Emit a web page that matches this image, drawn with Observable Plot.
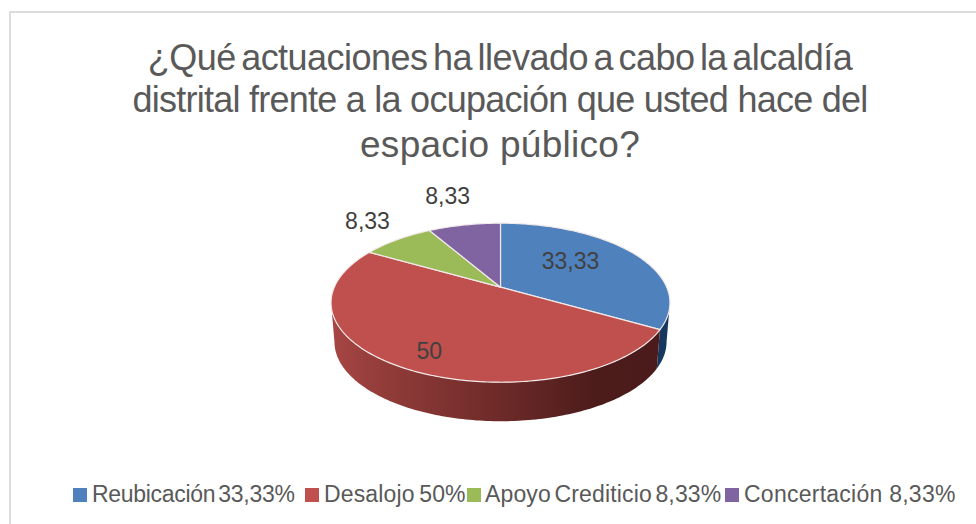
<!DOCTYPE html>
<html lang="es">
<head>
<meta charset="utf-8">
<script src="https://cdn.jsdelivr.net/npm/d3@7"></script>
<script src="https://cdn.jsdelivr.net/npm/@observablehq/plot@0.6"></script>
<style>
html,body{margin:0;padding:0;background:#fff;overflow:hidden}
#wrap{position:relative;width:976px;height:524px;font-family:"Liberation Sans",Arial,sans-serif;overflow:hidden}
#frame{position:absolute;left:9px;top:11px;right:-4px;bottom:-4px;border:2px solid #dcdcdc;box-sizing:border-box}
#title{position:relative;height:175px;color:#595959;font-size:36px;text-align:center}
#title div{position:absolute;left:12px;width:976px;white-space:nowrap;line-height:44px}
#chart{position:relative;height:300px}
#chart svg{display:block}
#legend{position:relative;height:49px;color:#595959;font-size:23px}
#legend span{position:absolute;top:6px;white-space:nowrap;line-height:26px}
#legend i{position:absolute;top:13px;width:14px;height:14px}
</style>
</head>
<body>
<div id="wrap">
  <div id="frame"></div>
  <div id="title"></div>
  <div id="chart"></div>
  <div id="legend"></div>
</div>
<script>
const categories = ["Reubicación", "Desalojo", "Apoyo Crediticio", "Concertación"];
const values = [33.33, 50, 8.33, 8.33];
const valueLabels = ["33,33", "50", "8,33", "8,33"];
const legendLabels = ["Reubicación 33,33%", "Desalojo 50%", "Apoyo Crediticio 8,33%", "Concertación 8,33%"];
const colors = ["#4f81bd", "#c0504d", "#9bbb59", "#8064a2"];
const titleLines = [
  "¿Qué actuaciones ha llevado a cabo la alcaldía",
  "distrital frente a la ocupación que usted hace del",
  "espacio público?"
];
const labelRadius = [0.58, 0.81, 1.41, 1.6];
const labelTurn = [-9, -3, 2, 0];

// perspective view of a flat disc
const cx = 500, cy = 286.7, R = 166.2, S = 76.5, k = 0.195;
const drop = 39, shrink = 0.98;
function project(deg, r = 1, level = 0) {
  const a = deg * Math.PI / 180, u = r * Math.sin(a), v = -r * Math.cos(a), w = 1 - k * v;
  const s = level ? shrink : 1;
  return {x: cx + s * R * u / w, y: cy + (level ? drop : 0) + S * v / w};
}
function arc(a0, a1, level) {
  const out = [], n = Math.max(2, Math.ceil(Math.abs(a1 - a0)));
  for (let i = 0; i <= n; ++i) out.push(project(a0 + (a1 - a0) * i / n, 1, level));
  return out;
}
const total = d3.sum(values);
const cum = d3.cumsum(values);
const starts = values.map((v, i) => (i ? cum[i - 1] : 0) / total * 360);
const ends = Array.from(cum, c => c / total * 360);

const topFace = categories.flatMap((key, i) => {
  const o = project(0, 0);
  return [o, ...arc(starts[i], ends[i], 0), o].map(p => ({...p, key}));
});
const sideStart = 101.2, sideEnd = 258.8;
const side = (a0, a1) => [...arc(a0, a1, 0), ...arc(a1, a0, 1)];
const blueSide = side(sideStart, ends[0]);
const redSide = side(ends[0], sideEnd);
const labels = values.map((v, i) => {
  const mid = (starts[i] + ends[i]) / 2 + labelTurn[i];
  return {...project(mid, labelRadius[i]), text: valueLabels[i]};
});

const svg = Plot.plot({
  width: 976, height: 300,
  margin: 0,
  x: {domain: [0, 976], range: [0, 976], axis: null},
  y: {domain: [175, 475], range: [0, 300], axis: null},
  color: {domain: categories, range: colors},
  marks: [
    Plot.line(blueSide, {x: "x", y: "y", fill: "#17375e", stroke: "none"}),
    Plot.line(redSide, {x: "x", y: "y", fill: "url(#redSide)", stroke: "none"}),
    Plot.line(topFace, {x: "x", y: "y", z: "key", fill: "key", stroke: "#f2e9e9", strokeWidth: 1.2, strokeLinejoin: "round"}),
    Plot.text(labels, {x: "x", y: "y", text: "text", fontSize: 23, fill: "#404040", fontFamily: "Liberation Sans"})
  ]
});
const grad = d3.select(svg).append("defs").append("linearGradient")
  .attr("id", "redSide").attr("gradientUnits", "userSpaceOnUse")
  .attr("x1", 331).attr("x2", 660).attr("y1", 0).attr("y2", 0);
[[0, "#a84644"], [0.12, "#963e3b"], [0.5, "#6e2b29"], [0.8, "#4c1c1b"], [1, "#4a1b1a"]]
  .forEach(([o, c]) => grad.append("stop").attr("offset", o).attr("stop-color", c));
document.getElementById("chart").appendChild(svg);

const titleTop = [36, 78, 123];
const titleSize = [36, 36, 37];
const titleSpacing = [[-0.52, -4], [-0.75, 0], [0.27, 0]];
const titleEl = d3.select("#title");
titleLines.forEach((t, i) => titleEl.append("div").text(t)
  .style("top", titleTop[i] + "px")
  .style("font-size", titleSize[i] + "px")
  .style("letter-spacing", titleSpacing[i][0] + "px")
  .style("word-spacing", titleSpacing[i][1] + "px"));

const swatchX = [73, 305, 467, 725];
const legendX = [92, 324, 485, 744];
const legendSpacing = [[-0.3, -3], [0.15, -2], [0.15, -3], [0.25, 0]];
const legendEl = d3.select("#legend");
legendLabels.forEach((t, i) => {
  legendEl.append("i").style("left", swatchX[i] + "px").style("background", colors[i]);
  legendEl.append("span").text(t).style("left", legendX[i] + "px")
    .style("letter-spacing", legendSpacing[i][0] + "px")
    .style("word-spacing", legendSpacing[i][1] + "px");
});
</script>
</body>
</html>
